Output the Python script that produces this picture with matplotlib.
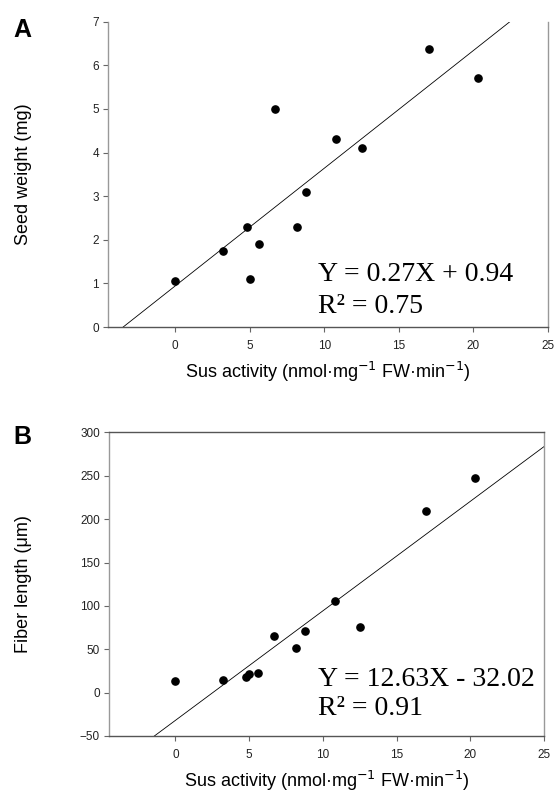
import matplotlib
matplotlib.use("Agg")
import matplotlib.pyplot as plt
import matplotlib.transforms as mtransforms
import numpy as np

# ---- data ----
sus_activity = [0.0, 3.2, 4.8, 5.0, 5.6, 6.7, 8.2, 8.8, 10.8, 12.5, 17.0, 20.3]
seed_weight = [1.05, 1.75, 2.3, 1.1, 1.9, 5.0, 2.3, 3.1, 4.3, 4.1, 6.38, 5.7]
fiber_length = [13, 15, 18, 21, 23, 65, 52, 71, 106, 76, 210, 248]

fit_a = (0.27, 0.94)
fit_b = (12.63, -32.02)
eq_a = ["Y = 0.27X + 0.94", "R\u00b2 = 0.75"]
eq_b = ["Y = 12.63X - 32.02", "R\u00b2 = 0.91"]

xticks = [0, 5, 10, 15, 20, 25]
yticks_a = [0, 1, 2, 3, 4, 5, 6, 7]
yticks_b = [-50, 0, 50, 100, 150, 200, 250, 300]

plt.rcParams['font.family'] = ['Liberation Sans', 'DejaVu Sans']

W, H = 554, 793
fig = plt.figure(figsize=(W / 100, H / 100), dpi=100)

def frac(l, r, t, b):
    return [l / W, 1 - b / H, (r - l) / W, (b - t) / H]

axA = fig.add_axes(frac(108, 548, 21.7, 327))
axB = fig.add_axes(frac(109, 544, 432.5, 736))

xlabel = "Sus activity (nmol\u00b7mg$^{-1}$ FW\u00b7min$^{-1}$)"

def style(ax, yticks, ylim, ylabel, top):
    ax.set_xlim(-4.5, 25)
    ax.set_ylim(*ylim)
    ax.set_xticks(xticks)
    ax.set_yticks(yticks)
    ax.tick_params(direction='out', length=3.5, width=0.8, labelsize=8.5,
                   color='#666666', labelcolor='#222222', pad=3)
    ax.tick_params(axis='x', pad=5.5)
    for s in ['left', 'right']:
        ax.spines[s].set_color('#999999')
        ax.spines[s].set_linewidth(1.0)
    for s in ['bottom', 'top']:
        ax.spines[s].set_color('#555555')
        ax.spines[s].set_linewidth(1.0)
    ax.spines['top'].set_visible(top)
    ax.set_ylabel(ylabel, fontsize=13)
    tr = mtransforms.blended_transform_factory(fig.transFigure, ax.transAxes)
    ax.yaxis.set_label_coords(32 / W, 0.5, transform=tr)
    ax.set_xlabel(xlabel, fontsize=13, labelpad=6)

def draw(ax, y, fit, eq, tx, ty1, ty2):
    xs = np.array([-10.0, 30.0])
    ax.plot(xs, fit[0] * xs + fit[1], color='black', lw=0.6, zorder=2)
    ax.plot(sus_activity, y, 'o', color='black', ms=5.2, zorder=3)
    ax.text(tx, ty1, eq[0], transform=ax.transAxes, fontsize=20,
            family='Liberation Serif', va='baseline', ha='left')
    ax.text(tx, ty2, eq[1], transform=ax.transAxes, fontsize=20,
            family='Liberation Serif', va='baseline', ha='left')

style(axA, yticks_a, (0, 7), "Seed weight (mg)", False)
style(axB, yticks_b, (-50, 300), "Fiber length (\u03bcm)", True)
draw(axA, seed_weight, fit_a, eq_a, 0.477, 0.151, 0.046)
draw(axB, fiber_length, fit_b, eq_b, 0.48, 0.165, 0.069)

fig.text(13 / W, 1 - 37 / H, "A", fontsize=18, fontweight='bold', va='baseline')
fig.text(13 / W, 1 - 444 / H, "B", fontsize=18, fontweight='bold', va='baseline')

fig.savefig("out.png", dpi=100)
